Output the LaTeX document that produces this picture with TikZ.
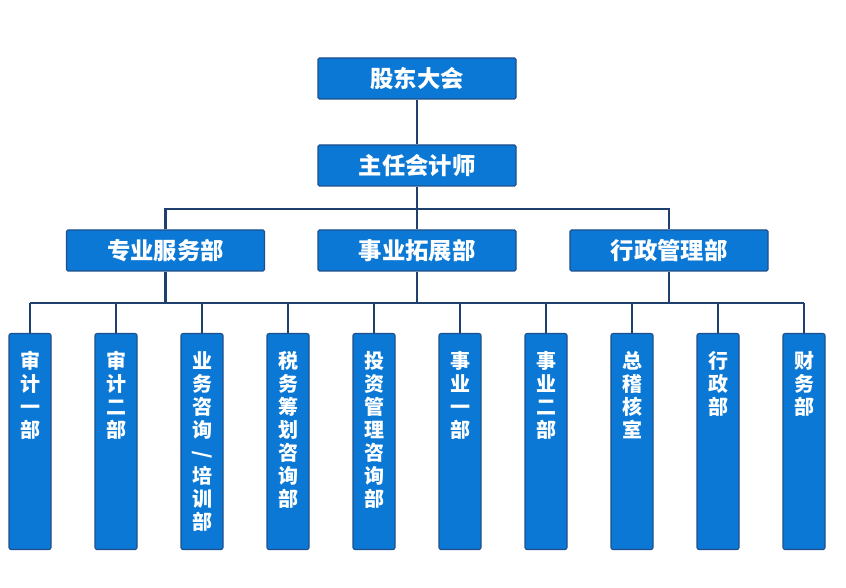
\documentclass[tikz,border=0pt]{standalone}
\usepackage{fontspec}
\usepackage{xcolor}
\newfontfamily\cjk{Noto Sans CJK SC}
\definecolor{boxblue}{HTML}{0A78D4}
\definecolor{boxedge}{HTML}{1E4F8A}
\definecolor{linknavy}{HTML}{1F3F6E}
\usetikzlibrary{calc}

\tikzset{
  wide/.style={draw=boxedge,fill=boxblue,line width=.8pt,text=white,rounded corners=1pt,
    minimum width=148.5pt,minimum height=30.75pt,inner sep=0pt,
    font=\cjk\bfseries\fontsize{17.5}{20}\selectfont},
  tall/.style={draw=boxedge,fill=boxblue,line width=.8pt,text=white,rounded corners=1.5pt,
    minimum width=31.5pt,text width=16pt,align=center,inner xsep=0pt,inner ysep=0pt,
    text height=26.5pt,text depth=135.5pt,anchor=north,
    font=\cjk\bfseries\fontsize{15}{17.2}\selectfont},
  link/.style={draw=linknavy,line width=1.8pt}
}
\newcommand{\slashmark}{\rotatebox[origin=c]{90}{/}}

\begin{document}
\begin{tikzpicture}
[x=0.75pt,y=0.75pt]
\useasboundingbox (0,0) rectangle (846,588);

\node[wide] (gd) at (417,509.5) {股东大会};
\node[wide] (zr) at (417,422.5) {主任会计师};

\node[wide] (zy) at (165.5,337.5) {专业服务部};
\node[wide] (sy) at (417,337.5) {事业拓展部};
\node[wide] (xz) at (669,337.5) {行政管理部};

\coordinate (busA) at (0,379); % upper bus
\coordinate (busB) at (0,285); % lower bus

% departments
\node[tall] (d1) at (30,255) {审\\计\\一\\部};
\node[tall] (d2) at (116,255) {审\\计\\二\\部};
\node[tall] (d3) at (202,255) {业\\务\\咨\\询\\\slashmark\\培\\训\\部};
\node[tall] (d4) at (288,255) {税\\务\\筹\\划\\咨\\询\\部};
\node[tall] (d5) at (374,255) {投\\资\\管\\理\\咨\\询\\部};
\node[tall] (d6) at (460,255) {事\\业\\一\\部};
\node[tall] (d7) at (546,255) {事\\业\\二\\部};
\node[tall] (d8) at (632,255) {总\\稽\\核\\室};
\node[tall] (d9) at (718,255) {行\\政\\部};
\node[tall] (d10) at (804,255) {财\\务\\部};

\draw[link] (gd.south) -- (zr.north);
\draw[link] (zr.south) -- (sy.north);
\draw[link] (zy.north) |- (busA -| sy) -| (xz.north);

\draw[link] (zy.south) -- (zy.south |- busB);
\draw[link] (sy.south) -- (sy.south |- busB);
\draw[link] (xz.south) -- (xz.south |- busB);
\draw[link] (d1.north |- busB) -- (d10.north |- busB);
\foreach \i in {1,...,10}
  \draw[link] (d\i.north |- busB) -- (d\i.north);

\end{tikzpicture}
\end{document}
